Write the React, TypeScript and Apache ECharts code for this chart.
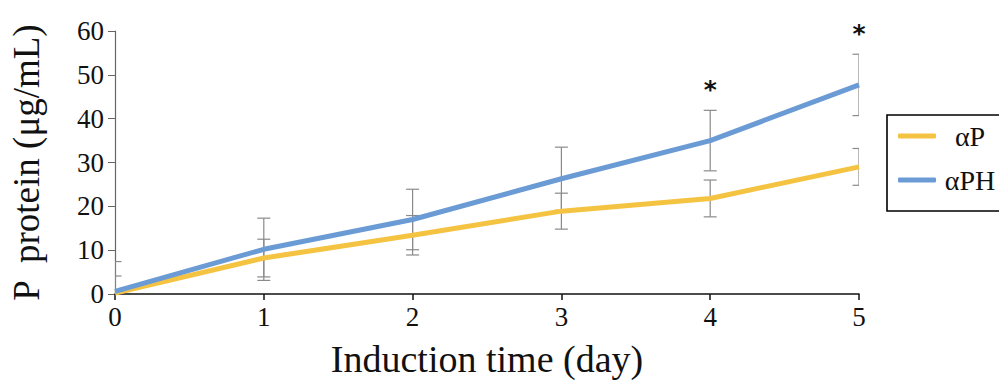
import React, { useEffect, useRef } from "react";
import * as echarts from "echarts";

const days = [0, 1, 2, 3, 4, 5];
const alphaP = [0.2, 8.2, 13.4, 18.9, 21.8, 29.0];
const alphaPErr = [3.9, 4.3, 4.5, 4.1, 4.2, 4.2];
const alphaPH = [0.6, 10.2, 17.0, 26.3, 35.0, 47.7];
const alphaPHErr = [6.8, 7.1, 6.9, 7.2, 6.9, 7.0];
const significance = ["", "", "", "", "*", "*"];
const seriesNames = ["αP", "αPH"];
const xTicks = [0, 1, 2, 3, 4, 5];
const yTicks = [0, 10, 20, 30, 40, 50, 60];

const YELLOW = "#F5C342";
const BLUE = "#6B9BD4";
const FONT = "'Liberation Serif', 'Times New Roman', serif";

export default function App() {
  const ref = useRef<HTMLDivElement>(null);
  useEffect(() => {
    if (!ref.current) return;
    const chart = echarts.init(ref.current, undefined, { renderer: "svg" });

    const errData = (vals: number[], errs: number[]) =>
      days.map((d, i) => [d, vals[i] - errs[i], vals[i] + errs[i]]);

    const errRender = (params: any, api: any) => {
      const x = api.value(0);
      const lo = api.coord([x, api.value(1)]);
      const hi = api.coord([x, api.value(2)]);
      const half = 6.5;
      const style = { stroke: "#8a8a8a", lineWidth: 1.2 };
      return {
        type: "group",
        children: [
          { type: "line", shape: { x1: lo[0], y1: lo[1], x2: hi[0], y2: hi[1] }, style },
          { type: "line", shape: { x1: hi[0] - half, y1: hi[1], x2: hi[0] + half, y2: hi[1] }, style },
          { type: "line", shape: { x1: lo[0] - half, y1: lo[1], x2: lo[0] + half, y2: lo[1] }, style },
        ],
      };
    };

    const starData = days.map((d, i) => [d, alphaPH[i] + alphaPHErr[i], significance[i]]);

    chart.setOption({
      animation: false,
      grid: { left: 113, right: 140, top: 31, bottom: 88, containLabel: false },
      legend: {
        data: seriesNames,
        orient: "vertical",
        left: 887,
        top: 115,
        itemWidth: 38,
        itemHeight: 5,
        itemGap: 16,
        padding: [7, 30, 17, 11],
        borderColor: "#000",
        borderWidth: 1.6,
        icon: "roundRect",
        formatter: (name: string) => "{c|" + name + "}",
        textStyle: {
          fontFamily: FONT,
          fontSize: 28,
          color: "#111",
          rich: { c: { fontFamily: FONT, fontSize: 28, color: "#111", width: 58, align: "center" } },
        },
      },
      xAxis: {
        type: "value",
        min: 0,
        max: 5,
        interval: 1,
        name: "Induction time (day)",
        nameLocation: "middle",
        nameGap: 46,
        nameTextStyle: { fontFamily: FONT, fontSize: 38, color: "#111" },
        axisLine: { lineStyle: { color: "#111", width: 1.5 } },
        axisTick: { show: true, length: 6, lineStyle: { color: "#111", width: 1.5 } },
        axisLabel: {
          fontFamily: FONT,
          fontSize: 27,
          color: "#111",
          margin: 9,
          formatter: (v: number) => (xTicks.includes(v) ? String(v) : ""),
        },
        splitLine: { show: false },
      },
      yAxis: {
        type: "value",
        min: 0,
        max: 60,
        interval: 10,
        name: "P  protein (μg/mL)",
        nameLocation: "middle",
        nameGap: 70,
        nameTextStyle: { fontFamily: FONT, fontSize: 37, color: "#111" },
        axisLine: { show: true, lineStyle: { color: "#666", width: 1.2 } },
        axisTick: { show: true, length: 7, lineStyle: { color: "#666" } },
        axisLabel: {
          fontFamily: FONT,
          fontSize: 27,
          color: "#111",
          margin: 11,
          formatter: (v: number) => (yTicks.includes(v) ? String(v) : ""),
        },
        splitLine: { show: false },
      },
      series: [
        {
          name: "αP err",
          type: "custom",
          renderItem: errRender,
          data: errData(alphaP, alphaPErr),
          clip: true,
          z: 1,
          silent: true,
        },
        {
          name: "αPH err",
          type: "custom",
          renderItem: errRender,
          data: errData(alphaPH, alphaPHErr),
          clip: true,
          z: 1,
          silent: true,
        },
        {
          name: seriesNames[0],
          type: "line",
          data: days.map((d, i) => [d, alphaP[i]]),
          showSymbol: false,
          symbol: "none",
          color: YELLOW,
          lineStyle: { color: YELLOW, width: 5 },
          z: 3,
        },
        {
          name: seriesNames[1],
          type: "line",
          data: days.map((d, i) => [d, alphaPH[i]]),
          showSymbol: false,
          symbol: "none",
          color: BLUE,
          lineStyle: { color: BLUE, width: 5 },
          z: 4,
        },
        {
          name: "sig",
          type: "custom",
          clip: false,
          data: starData,
          renderItem: (params: any, api: any) => {
            const idx = params.dataIndex;
            const mark = significance[idx];
            if (!mark) return null;
            const p = api.coord([api.value(0), api.value(1)]);
            return {
              type: "text",
              x: p[0],
              y: p[1] - 21,
              style: {
                text: mark,
                fontFamily: "'DejaVu Sans', sans-serif",
                fontWeight: "bold",
                fontSize: 25,
                fill: "#111",
                align: "center",
                verticalAlign: "middle",
              },
            };
          },
          z: 5,
        },
      ],
    });
    return () => chart.dispose();
  }, []);
  return <div ref={ref} style={{ width: 999, height: 383, position: "absolute", left: 0, top: 0 }} />;
}
